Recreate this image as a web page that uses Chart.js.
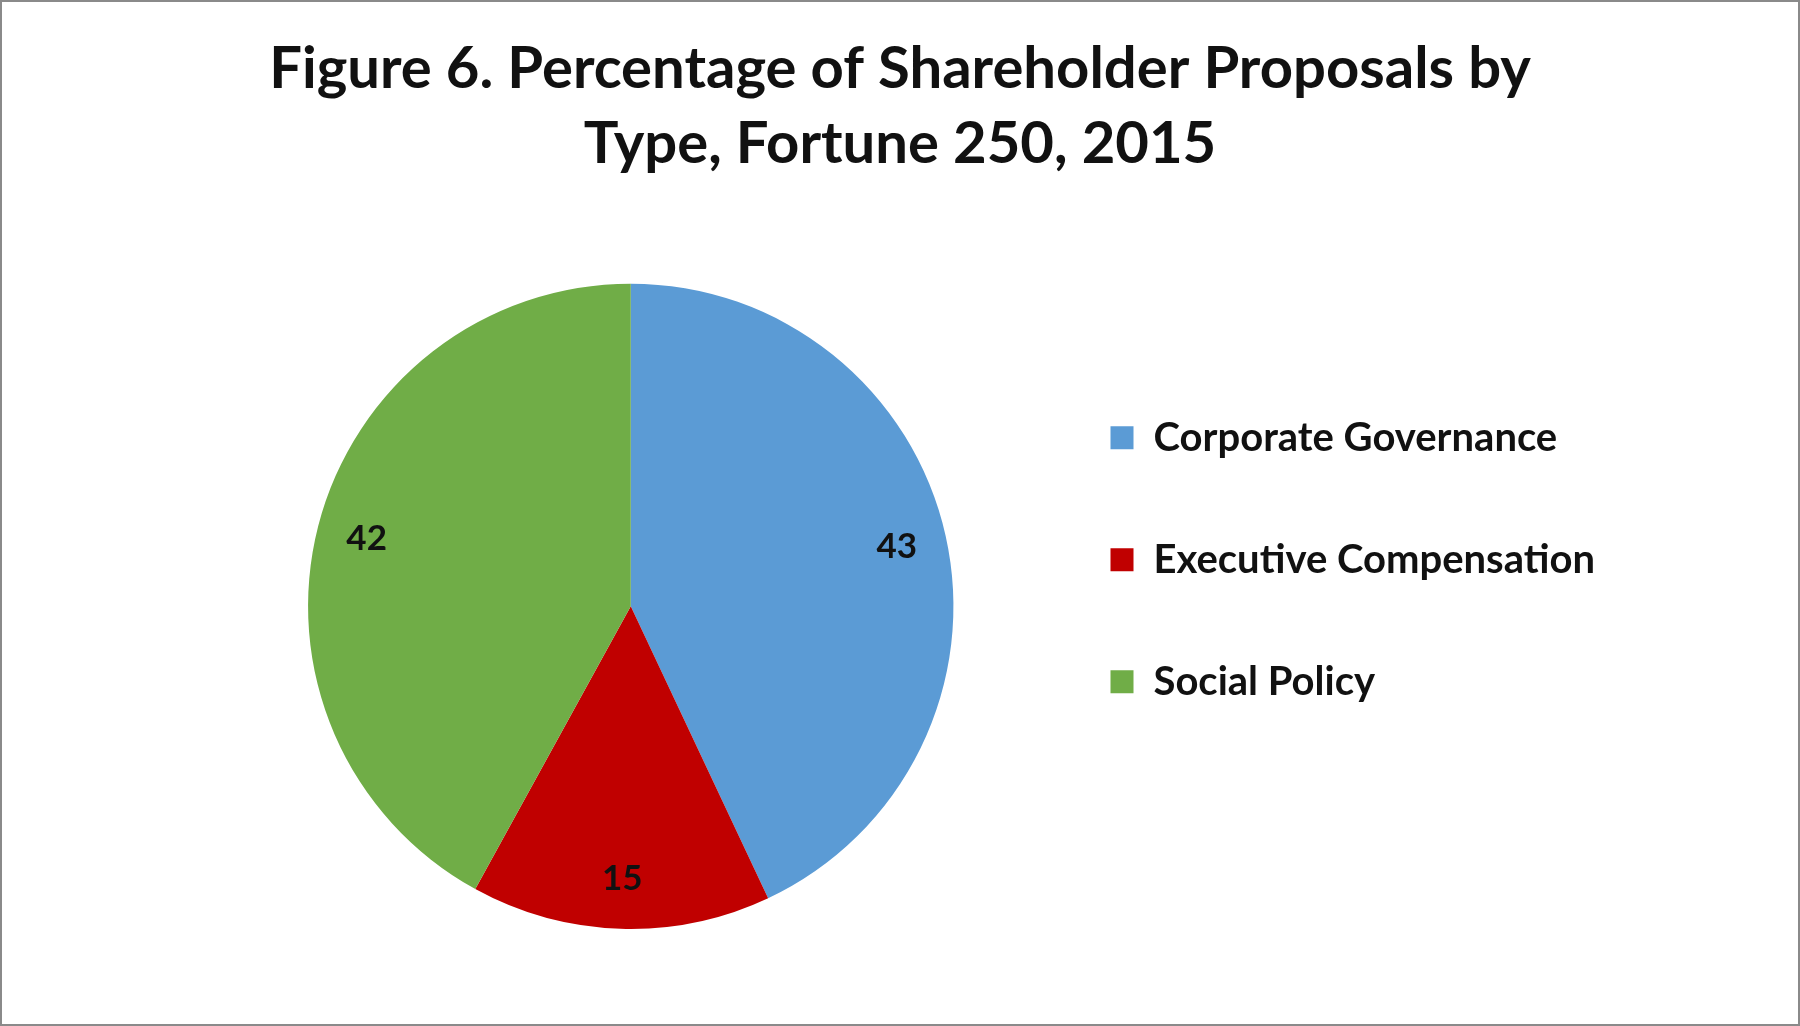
<!DOCTYPE html>
<html>
<head>
<meta charset="utf-8">
<script src="https://cdn.jsdelivr.net/npm/chart.js@4"></script>
<style>
  html, body { margin: 0; padding: 0; background: #fff; }
  .frame {
    width: 1800px; height: 1026px;
    box-sizing: border-box;
    border: 2px solid #8a8a8a;
    background: #fff;
  }
</style>
</head>
<body>
<div class="frame"><canvas id="pieChart"></canvas></div>
<script>
// Data
const categories = ['Corporate Governance', 'Executive Compensation', 'Social Policy'];
const shares = [43, 15, 42];
const sliceColors = ['#5B9BD5', '#C00000', '#70AD47'];
const titleLines = ['Figure 6. Percentage of Shareholder Proposals by', 'Type, Fortune 250, 2015'];

// Draw the numbers inside each slice, near the outer edge
const sliceLabels = {
  id: 'sliceLabels',
  afterDatasetsDraw(chart) {
    const ctx = chart.ctx;
    const meta = chart.getDatasetMeta(0);
    ctx.save();
    ctx.font = 'bold 35px Lato, "Open Sans", sans-serif';
    ctx.fillStyle = '#111';
    ctx.textAlign = 'center';
    ctx.textBaseline = 'middle';
    meta.data.forEach((arc, i) => {
      const p = arc.getProps(['x', 'y', 'startAngle', 'endAngle', 'outerRadius'], true);
      const mid = (p.startAngle + p.endAngle) / 2;
      const r = p.outerRadius * 0.845;
      ctx.fillText(String(shares[i]), p.x + Math.cos(mid) * r, p.y + Math.sin(mid) * r);
    });
    ctx.restore();
  }
};

// The side padding is uneven (pie sits left of centre), so stretch the
// title box back over the full width to keep the heading centred
const centreTitle = {
  id: 'centreTitle',
  afterLayout(chart) {
    const t = chart.titleBlock;
    if (t) {
      t.left = 0;
      t.right = chart.width;
      t.width = chart.width;
    }
  }
};

document.addEventListener('DOMContentLoaded', () => {
  const el = document.getElementById('pieChart');
  new Chart(el.getContext('2d'), {
    type: 'pie',
    data: {
      labels: categories,
      datasets: [{
        data: shares,
        backgroundColor: sliceColors,
        borderWidth: 0
      }]
    },
    options: {
      responsive: true,
      maintainAspectRatio: false,
      animation: false,
      layout: { padding: { left: 231, right: 193, top: 0, bottom: 95 } },
      plugins: {
        tooltip: { enabled: false },
        title: {
          display: true,
          text: titleLines,
          color: '#111',
          font: { family: 'Lato, "Open Sans", sans-serif', size: 58, weight: 'bold', lineHeight: 1.29 },
          padding: { top: 30, bottom: 102 }
        },
        legend: {
          position: 'right',
          align: 'start',
          fullSize: false,
          title: { display: true, text: '', font: { size: 10 }, padding: { top: 40, bottom: 0 } },
          labels: {
            color: '#111',
            boxWidth: 23,
            boxHeight: 23,
            padding: 82,
            font: { family: 'Lato, "Open Sans", sans-serif', size: 40, weight: 'bold' }
          }
        }
      }
    },
    plugins: [sliceLabels, centreTitle]
  });
});
</script>
</body>
</html>
